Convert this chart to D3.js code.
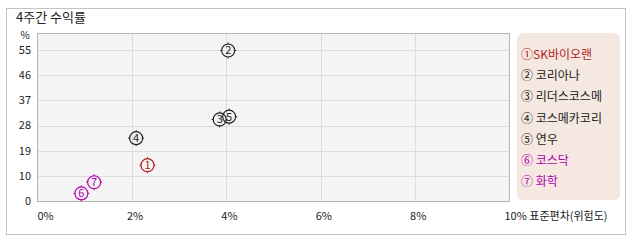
<!DOCTYPE html>
<html>
<head>
<meta charset="utf-8">
<script src="https://cdn.jsdelivr.net/npm/d3@7"></script>
<style>
  body { margin: 0; background: #fff; }
  text { font-family: "Noto Sans CJK KR", "DejaVu Sans", sans-serif; font-size: 11px; fill: #222; }
</style>
</head>
<body>
<svg id="chart" width="638" height="242"></svg>
<script>
var names = ["SK바이오랜", "코리아나", "리더스코스메", "코스메카코리", "연우", "코스닥", "화학"],
    marks = ["①", "②", "③", "④", "⑤", "⑥", "⑦"],
    risk = [2.33, 4.04, 3.86, 2.09, 4.06, 0.93, 1.20],      // 표준편차 %
    ret = [13.8, 54.9, 30.2, 23.5, 31.2, 3.7, 7.7],         // 4주간 수익률 %
    colors = ["#b31b1b", "#222", "#222", "#222", "#222", "#b000b0", "#b000b0"],
    yTicks = [0, 10, 19, 28, 37, 46, 55],
    xTicks = [0, 2, 4, 6, 8, 10];

var svg = d3.select("#chart");

// outer frame
svg.append("rect")
  .attr("x", 6.5).attr("y", 8.5).attr("width", 619).attr("height", 226)
  .style("fill", "#fff").style("stroke", "#c4c4c4");

svg.append("text").attr("x", 16).attr("y", 22).style("font-size", "13px").text("4주간 수익률");

var pLeft = 37.5, pRight = 509.5, pTop = 33.5, pBottom = 201.5;

var x = d3.scaleLinear().domain([0, 10]).range([pLeft, pRight]),
    y = d3.scaleLinear().domain([0.8, 61]).range([pBottom, pTop]).clamp(true);

svg.append("rect")
  .attr("x", pLeft).attr("y", pTop).attr("width", pRight - pLeft).attr("height", pBottom - pTop)
  .style("fill", "#f4f4f4");

// grid
svg.append("g").selectAll("line").data(yTicks.slice(1)).enter().append("line")
  .attr("x1", pLeft).attr("x2", pRight)
  .attr("y1", d => Math.round(y(d)) + 0.5).attr("y2", d => Math.round(y(d)) + 0.5)
  .style("stroke", "#dcdcdc");
svg.append("g").selectAll("line").data(xTicks.slice(1, -1)).enter().append("line")
  .attr("x1", d => Math.round(x(d)) + 0.5).attr("x2", d => Math.round(x(d)) + 0.5)
  .attr("y1", pTop).attr("y2", pBottom)
  .style("stroke", "#dcdcdc");

svg.append("rect")
  .attr("x", pLeft).attr("y", pTop).attr("width", pRight - pLeft).attr("height", pBottom - pTop)
  .style("fill", "none").style("stroke", "#b4b4b4");

// y labels
svg.append("g").selectAll("text").data(yTicks).enter().append("text")
  .attr("x", 31).attr("y", d => y(d)).attr("dy", "0.35em")
  .attr("text-anchor", "end")
  .text(d => d);
svg.append("text").attr("x", 25).attr("y", 35).attr("dy", "0.35em")
  .attr("text-anchor", "middle").style("font-size", "10px").text("%");

// x labels
svg.append("g").selectAll("text").data(xTicks).enter().append("text")
  .attr("x", d => Math.max(x(d) - 5, pLeft))
  .attr("y", 220)
  .text(d => d + "%" + (d === 10 ? " 표준편차(위험도)" : ""));

// points
var pts = svg.append("g").selectAll("g").data(names).enter().append("g")
  .attr("transform", (d, i) => "translate(" + x(risk[i]) + "," + y(ret[i]) + ")")
  .style("stroke", (d, i) => colors[i]);
pts.append("circle").attr("r", 6.5)
  .style("fill", "none").style("stroke-width", 1.2);
pts.selectAll("line").data([[0, -6.5, 0, -8], [0, 6.5, 0, 8], [-6.5, 0, -8, 0], [6.5, 0, 8, 0]])
  .enter().append("line")
  .attr("x1", d => d[0]).attr("y1", d => d[1]).attr("x2", d => d[2]).attr("y2", d => d[3]);
pts.append("text").attr("text-anchor", "middle").attr("dy", "0.36em")
  .style("font-size", "11px")
  .style("stroke", "none")
  .style("fill", (d, i) => colors[i])
  .text((d, i) => i + 1);

// legend
svg.append("rect")
  .attr("x", 517).attr("y", 33).attr("width", 103).attr("height", 167)
  .attr("rx", 6).style("fill", "#f5e8e1");
svg.append("g").selectAll("text").data(names).enter().append("text")
  .attr("x", 521).attr("y", (d, i) => 55 + i * 21.1).attr("dy", "0.35em")
  .style("font-size", "12px")
  .style("fill", (d, i) => colors[i])
  .text((d, i) => marks[i] + (i === 0 ? "" : " ") + d);
</script>
</body>
</html>
